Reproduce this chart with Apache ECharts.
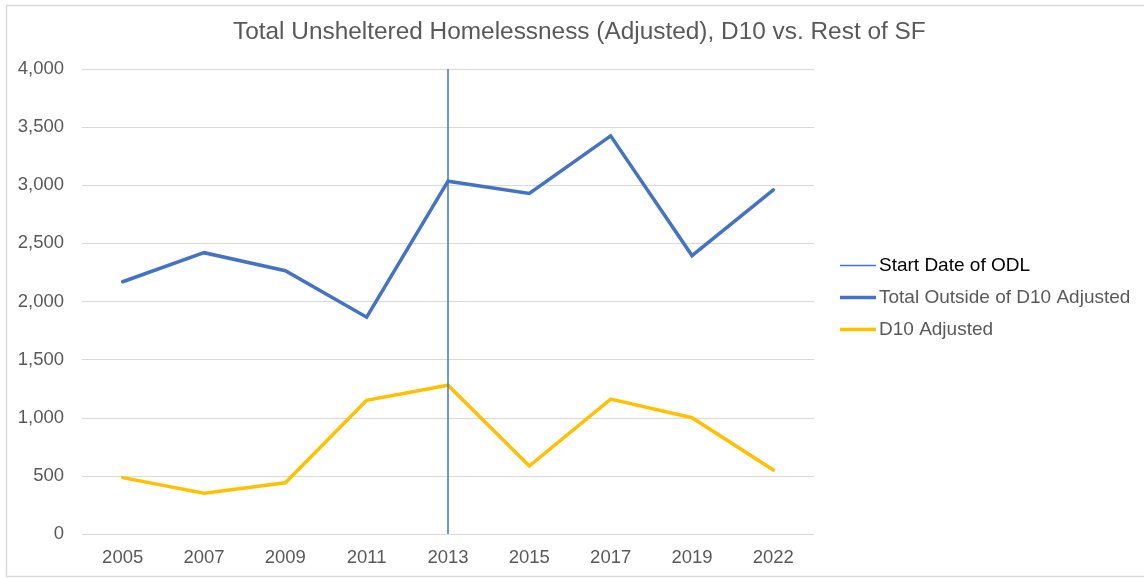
<!DOCTYPE html>
<html>
<head>
<meta charset="utf-8">
<title>Total Unsheltered Homelessness (Adjusted)</title>
<script src="https://cdn.jsdelivr.net/npm/echarts@6/dist/echarts.min.js"></script>
<style>
  html, body { margin: 0; padding: 0; background: #ffffff; }
  #chart { width: 1144px; height: 578px; }
</style>
</head>
<body>
<div id="chart"></div>
<script>
// Point-in-time count years
const years = ['2005', '2007', '2009', '2011', '2013', '2015', '2017', '2019', '2022'];
// Unsheltered counts, rest of the city vs. District 10
const outsideD10 = [2170, 2420, 2265, 1865, 3035, 2930, 3425, 2395, 2960];
const d10 = [485, 350, 440, 1150, 1280, 585, 1160, 1000, 550];
// Year the ordinance took effect
const odlStartYear = '2013';
// Value axis ticks
const yMin = 0;
const yMax = 4000;
const yStep = 500;

const FONT = '"Liberation Sans", Arial, Helvetica, sans-serif';
const GREY = '#595959';
const BLUE = '#4472C4';
const GOLD = '#FFC000';

const chart = echarts.init(document.getElementById('chart'), null, { renderer: 'canvas' });

// Shared legend look; the marker line gets a thin swatch, the series a thick one
const legendBase = {
  orient: 'vertical',
  left: 840,
  padding: 0,
  itemWidth: 36,
  itemGap: 13,
  icon: 'rect',
  selectedMode: false,
  textStyle: { fontFamily: FONT, fontSize: 19, color: GREY, padding: [0, 0, 0, -2] }
};

chart.setOption({
  animation: false,
  backgroundColor: '#ffffff',
  textStyle: { fontFamily: FONT },
  graphic: [{
    type: 'rect',
    silent: true,
    z: -10,
    shape: { x: 6.5, y: 5.5, width: 1200, height: 571 },
    style: { fill: 'none', stroke: '#d9d9d9', lineWidth: 1.5 }
  }],
  title: {
    text: 'Total Unsheltered Homelessness (Adjusted), D10 vs. Rest of SF',
    left: 233,
    top: 20,
    padding: 0,
    textStyle: { fontFamily: FONT, fontSize: 24.4, fontWeight: 'normal', color: GREY }
  },
  legend: [
    Object.assign({}, legendBase, {
      top: 256,
      itemHeight: 1.5,
      data: [{ name: 'Start Date of ODL', textStyle: { color: '#000000' } }]
    }),
    Object.assign({}, legendBase, {
      top: 288,
      itemHeight: 3.5,
      data: [{ name: 'Total Outside of D10 Adjusted' }, { name: 'D10 Adjusted' }]
    })
  ],
  grid: { left: 82, right: 330, top: 69, bottom: 44, containLabel: false },
  xAxis: {
    type: 'category',
    data: years,
    boundaryGap: true,
    axisLine: { show: false },
    axisTick: { show: false },
    axisLabel: { color: GREY, fontFamily: FONT, fontSize: 18.5, margin: 14 },
    splitLine: { show: false }
  },
  yAxis: {
    type: 'value',
    min: yMin,
    max: yMax,
    interval: yStep,
    axisLine: { show: false },
    axisTick: { show: false },
    axisLabel: {
      color: GREY,
      fontFamily: FONT,
      fontSize: 18.5,
      margin: 18,
      formatter: v => v.toLocaleString('en-US')
    },
    splitLine: { lineStyle: { color: '#d9d9d9', width: 1 } }
  },
  series: [
    {
      name: 'Start Date of ODL',
      type: 'line',
      symbol: 'none',
      data: [],
      lineStyle: { color: BLUE, width: 1.5 },
      itemStyle: { color: BLUE },
      z: 5,
      markLine: {
        silent: true,
        symbol: 'none',
        label: { show: false },
        lineStyle: { color: BLUE, width: 1.5, type: 'solid' },
        data: [{ xAxis: odlStartYear }]
      }
    },
    {
      name: 'Total Outside of D10 Adjusted',
      type: 'line',
      data: outsideD10,
      symbol: 'none',
      lineStyle: { color: BLUE, width: 3.5, cap: 'round', join: 'miter' },
      itemStyle: { color: BLUE },
      z: 3
    },
    {
      name: 'D10 Adjusted',
      type: 'line',
      data: d10,
      symbol: 'none',
      lineStyle: { color: GOLD, width: 3.5, cap: 'round', join: 'miter' },
      itemStyle: { color: GOLD },
      z: 3
    }
  ]
});
</script>
</body>
</html>
